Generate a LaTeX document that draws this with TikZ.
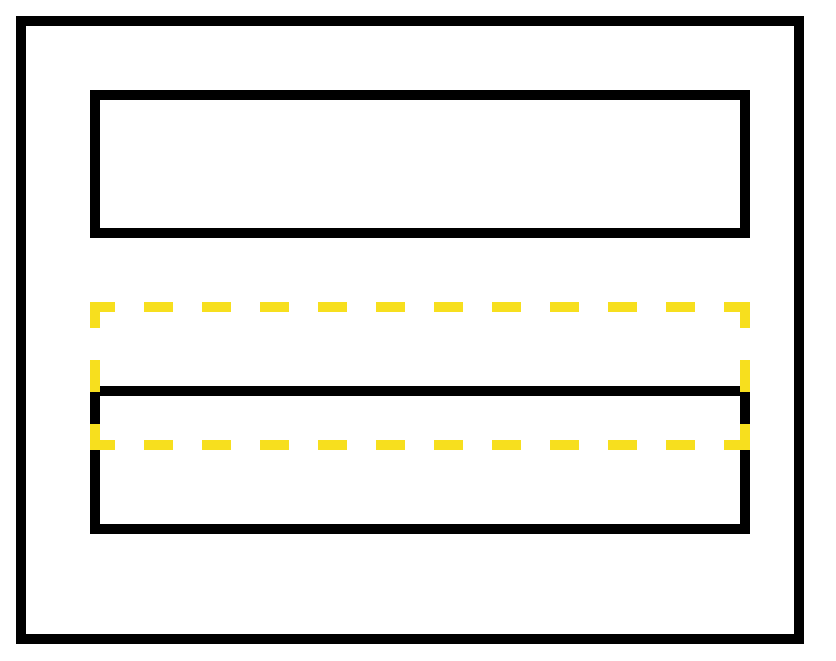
\documentclass[tikz,border=0pt]{standalone}
\usepackage{tikz}

\definecolor{jaune}{RGB}{247,223,30}

\begin{document}
\begin{tikzpicture}[x=0.025cm, y=-0.025cm]
        \def\lw{0.25cm} % epaisseur des traits
        \tikzset{
            cadre/.style={draw=black, line width=\lw},
            tiretH/.style={draw=jaune, line width=\lw, line cap=rect, dash pattern=on 0.475cm off 0.975cm, dash phase=0.1cm},
            tiretV/.style={draw=jaune, line width=\lw, line cap=rect, dash pattern=on 0.55cm off 1.05cm, dash phase=0.15cm}
        }
        \useasboundingbox (0,0) rectangle (836,660);

        % Cadre exterieur
        \draw[cadre] (21,21) rectangle (799,639);

        % Bloc du haut
        \draw[cadre] (95,95) rectangle (745,233);
        % Bloc du bas
        \draw[cadre] (95,391) rectangle (745,529);

        % Zone en pointilles (jaune)
        \draw[tiretH] (95,307) -- (745,307);
        \draw[tiretH] (95,445) -- (745,445);
        \draw[tiretV] (95,307) -- (95,445);
        \draw[tiretV] (745,307) -- (745,445);
\end{tikzpicture}
\end{document}
